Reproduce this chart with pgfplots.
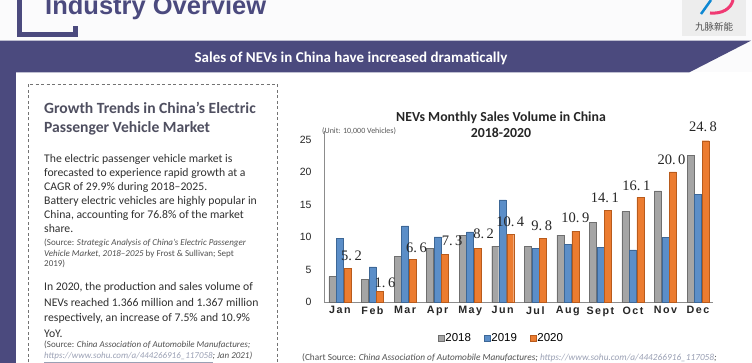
\documentclass[border=0pt]{standalone}
\usepackage{pgfplots}
\pgfplotsset{compat=1.18}
\usepackage{pgfplotstable}
\usepackage{fontspec}
\setmainfont{Carlito}
\newfontfamily\arialf{Liberation Sans}
\newfontfamily\xlabf[LetterSpace=14]{Liberation Sans}
\newfontfamily\serf{Liberation Serif}
\newfontfamily\cjk{Noto Sans CJK SC}
\definecolor{navy}{HTML}{4B4A7E}
\definecolor{bgc}{HTML}{FBFBFC}
\definecolor{headc}{HTML}{4F4F60}
\definecolor{bodyc}{HTML}{303030}
\definecolor{srcc}{HTML}{505050}
\definecolor{urlc}{HTML}{9AA0B4}
\definecolor{gfill}{HTML}{A5A5A5}
\definecolor{gdraw}{HTML}{6F6F6F}
\definecolor{bfill}{HTML}{5B8EC8}
\definecolor{bdraw}{HTML}{3D6796}
\definecolor{ofill}{HTML}{EC7C30}
\definecolor{odraw}{HTML}{B85B1C}
\newcommand\headf{\bfseries\fontsize{15.6}{18}\selectfont\color{headc}}
\newcommand\bodyf{\fontsize{11.7}{14}\selectfont\color{bodyc}}
\newcommand\srcf{\fontsize{9}{10}\selectfont\color{srcc}}
\newcommand\dd{.\hspace{2.5pt}}
% \lab{dx}{dy}{text}: text centred dx pt right of the node, raised dy pt
\newcommand\lab[3]{\raisebox{#2pt}{\makebox[0pt][c]{\hspace*{#1pt}\hspace*{#1pt}#3}}}

\pgfplotstableread{
x y lbl
0 5.2 \lab{4}{8}{5\dd{}2}
1 1.6 \lab{5}{4}{1\dd{}6}
2 6.6 \lab{4}{7}{6\dd{}6}
3 7.3 \lab{7}{9.5}{7\dd{}3}
4 8.2 \lab{6}{10}{8\dd{}2}
5 10.4 \lab{0}{8}{10\dd{}4}
6 9.8 \lab{-1}{8}{9\dd{}8}
7 10.9 \lab{0}{8.7}{10\dd{}9}
8 14.1 \lab{-3}{8}{14\dd{}1}
9 16.1 \lab{-4}{7}{16\dd{}1}
10 20.0 \lab{-1.5}{7.5}{20\dd{}0}
11 24.8 \lab{-2.5}{9}{24\dd{}8}
}\orangetab

\begin{document}
\begin{tikzpicture}
\useasboundingbox (0pt,0pt) rectangle (752pt,363pt);
\clip (0pt,0pt) rectangle (752pt,363pt);
\begin{scope}[x=1pt,y=1pt]
\fill[bgc] (0,0) rectangle (752,363);
\fill[white] (16,0) rectangle (752,290.5);
% header bracket
\fill[navy] (17,326) rectangle (22,363);
\fill[navy] (17,326) rectangle (78,331);
\fill[navy] (73,326) rectangle (78,337);
\node[anchor=base west, inner sep=0] at (45,348) {\arialf\bfseries\fontsize{25.5}{28}\selectfont\color{navy}Industry Overview};
% logo
\fill[black!7] (682,327) rectangle (746,363);
\draw[line width=3pt, color=magenta!55!red!80] (710,350) .. controls (722,349) and (731,354) .. (733,363);
\draw[line width=2.5pt, color=cyan!70!blue] (701,349) -- (711,363);
\node[anchor=center, inner sep=0] at (714,336) {\cjk\fontsize{9.5}{10}\selectfont\color{black!70}九脉新能};
% banner
\fill[navy] (0,322.3) -- (751,322.3) -- (689,290.5) -- (0,290.5) -- cycle;
\fill[navy] (0,0) rectangle (16,290.5);
\node[anchor=base, inner sep=0] at (351,300) {\bfseries\fontsize{15}{17}\selectfont\color{white}Sales of NEVs in China have increased dramatically};
% dashed box
\draw[black!55, line width=0.9pt, dash pattern=on 3pt off 2.5pt] (28,-5) -- (28,279) -- (277,279) -- (277,-5);
% left panel text
\node[anchor=base west, inner sep=0] at (44,249) {\headf Growth Trends in China’s Electric};
\node[anchor=base west, inner sep=0] at (44,230) {\headf Passenger Vehicle Market};
\node[anchor=base west, inner sep=0] at (44,200) {\bodyf The electric passenger vehicle market is};
\node[anchor=base west, inner sep=0] at (44,186) {\bodyf forecasted to experience rapid growth at a};
\node[anchor=base west, inner sep=0] at (44,172) {\bodyf CAGR of 29.9\% during 2018–2025.};
\node[anchor=base west, inner sep=0] at (44,158) {\bodyf Battery electric vehicles are highly popular in};
\node[anchor=base west, inner sep=0] at (44,144) {\bodyf China, accounting for 76.8\% of the market};
\node[anchor=base west, inner sep=0] at (44,130) {\bodyf share.};
\node[anchor=base west, inner sep=0] at (44,117) {\srcf (Source: \itshape Strategic Analysis of China’s Electric Passenger};
\node[anchor=base west, inner sep=0] at (44,106) {\srcf \itshape Vehicle Market, 2018–2025 \upshape by Frost \& Sullivan; Sept};
\node[anchor=base west, inner sep=0] at (44,96) {\srcf 2019)};
\node[anchor=base west, inner sep=0] at (44,72) {\bodyf In 2020, the production and sales volume of};
\node[anchor=base west, inner sep=0] at (44,56.5) {\bodyf NEVs reached 1.366 million and 1.367 million};
\node[anchor=base west, inner sep=0] at (44,41) {\bodyf respectively, an increase of 7.5\% and 10.9\%};
\node[anchor=base west, inner sep=0] at (44,25.5) {\bodyf YoY.};
\node[anchor=base west, inner sep=0] at (44,15.5) {\srcf (Source: \itshape China Association of Automobile Manufactures;};
\node[anchor=base west, inner sep=0] at (44,4) {\srcf\itshape {\color{urlc}\underline{https://www.sohu.com/a/444266916\_117058}}; Jan 2021)};
% chart titles
\node[anchor=base, inner sep=0] at (501,241.5) {\bfseries\fontsize{13.8}{16}\selectfont\color{black!85}NEVs Monthly Sales Volume in China};
\node[anchor=base, inner sep=0] at (501,225.5) {\bfseries\fontsize{13.8}{16}\selectfont\color{black!85}2018-2020};
\node[anchor=base west, inner sep=0] at (322,229) {\fontsize{8}{9}\selectfont\color{black!65}(Unit: 10,000 Vehicles)};
\node[anchor=base west, inner sep=0] at (302,2) {\fontsize{9.3}{10}\selectfont\color{srcc}(Chart Source: \itshape China Association of Automobile Manufactures; {\color{urlc}\underline{https://www.sohu.com/a/444266916\_117058}};};
\end{scope}
\begin{axis}[
  at={(324pt,61pt)}, anchor=south west,
  scale only axis, width=389pt, height=171pt,
  xmin=-0.49, xmax=11.46, ymin=0, ymax=26.3,
  axis x line*=bottom, axis y line*=left,
  axis line style={-, draw=black!45, line width=0.9pt},
  major tick length=0pt,
  xtick={0,...,11},
  xticklabels={Jan,Feb,Mar,Apr,May,Jun,Jul,Aug,Sept,Oct,Nov,Dec},
  ytick={0,5,10,15,20,25},
  /pgf/number format/assume math mode=true,
  xticklabel style={font=\xlabf\bfseries\fontsize{10.7}{12}\selectfont, text=black!85, yshift=-1pt},
  yticklabel style={font=\arialf\fontsize{10.5}{12}\selectfont, text=black!85, xshift=-9pt},
  ybar, bar width=7pt,
  clip=false,
  legend style={at={(0.455,-0.21)}, anchor=center, draw=none, fill=none,
    legend columns=-1, font=\arialf\fontsize{11.5}{13}\selectfont,
    /tikz/every even column/.append style={column sep=12pt},
    nodes={inner sep=1pt}},
  legend image code/.code={\draw[#1] (0pt,-3pt) rectangle (6pt,3pt);},
]
\addplot[fill=gfill, draw=gdraw, bar shift=-7.5pt] coordinates {(0,3.9) (1,3.5) (2,7.0) (3,8.3) (4,10.3) (5,8.6) (6,8.6) (7,10.3) (8,12.2) (9,13.9) (10,17.1) (11,22.6)};
\addplot[fill=bfill, draw=bdraw, bar shift=0pt] coordinates {(0,9.8) (1,5.4) (2,11.7) (3,10.0) (4,10.8) (5,15.7) (6,8.3) (7,8.9) (8,8.4) (9,8.0) (10,9.9) (11,16.6)};
\addplot[fill=ofill, draw=odraw, bar shift=7.5pt,
  point meta=explicit symbolic,
  nodes near coords={\pgfplotspointmeta},
  every node near coord/.append style={anchor=base, inner sep=0pt, font=\serf\fontsize{14.5}{16}\selectfont, text=black!85},
] table[x=x,y=y,meta=lbl]{\orangetab};
\legend{2018,2019,2020}
\end{axis}
\end{tikzpicture}
\end{document}
